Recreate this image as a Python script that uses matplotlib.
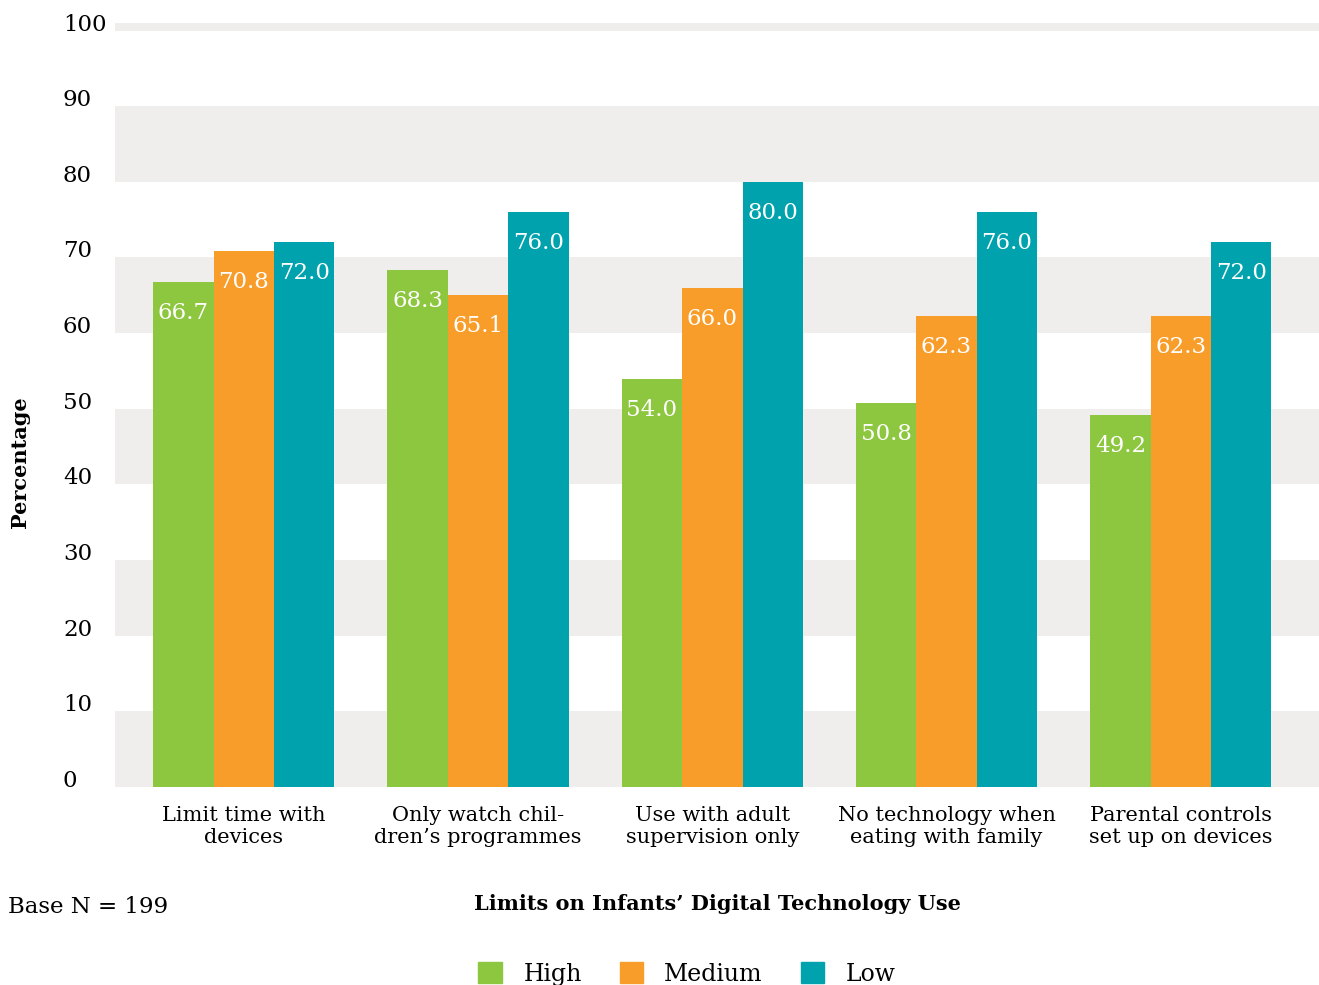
import numpy as np
import matplotlib
matplotlib.use('Agg')
from matplotlib import pyplot as plt
from matplotlib.patches import Patch
import matplotlib.transforms as mtransforms

categories = ['Limit time with\ndevices', 'Only watch chil-\ndren\u2019s programmes',
              'Use with adult\nsupervision only', 'No technology when\neating with family',
              'Parental controls\nset up on devices']
high = [66.7, 68.3, 54.0, 50.8, 49.2]
medium = [70.8, 65.1, 66.0, 62.3, 62.3]
low = [72.0, 76.0, 80.0, 76.0, 72.0]
series_names = ['High', 'Medium', 'Low']
yticks = [0, 10, 20, 30, 40, 50, 60, 70, 80, 90, 100]

colors = ['#8dc63f', '#f99d2a', '#00a3ad']
band = '#efeeec'
font = 'DejaVu Serif'
plt.rcParams['font.family'] = font

fig = plt.figure(figsize=(13.19, 9.85), dpi=100)
ax = fig.add_axes([115/1319, 1-787/985, 1-115/1319, (787-23)/985])

# alternating bands
for lo in range(0, 101, 20):
    ax.axhspan(lo, min(lo+10, 101), color=band, lw=0, zorder=0)

x = np.arange(len(categories))
w = 0.258
for i, vals in enumerate([high, medium, low]):
    xs = x + (i-1)*w
    ax.bar(xs, vals, width=w, color=colors[i], zorder=2, lw=0)
    for xx, v in zip(xs, vals):
        ax.text(xx, v-4.1, '%.1f' % v, color='white', ha='center', va='center',
                fontsize=16.5, zorder=3)

ax.set_xlim(-0.55, 4.59)
ax.set_ylim(0, 101)
for s in ax.spines.values():
    s.set_visible(False)
ax.set_yticks([])
ax.set_xticks(x)
ax.set_xticklabels(categories, fontsize=15, linespacing=1.2)
ax.tick_params(axis='x', length=0, pad=14)

# y tick labels sit just above their gridline
trans = mtransforms.blended_transform_factory(fig.transFigure, ax.transData)
for t in yticks:
    ax.text(63/1319, t, str(t), transform=trans, ha='left', va='baseline',
            fontsize=16.5, clip_on=False)

fig.text(20/1319, 1-462/985, 'Percentage', rotation=90, ha='center', va='center',
         fontsize=15, fontweight='bold')
fig.text(717/1319, 1-904/985, 'Limits on Infants\u2019 Digital Technology Use',
         ha='center', va='center', fontsize=15, fontweight='bold')
fig.text(8/1319, 1-907/985, 'Base N = 199', ha='left', va='center', fontsize=16.5)

handles = [Patch(color=c) for c in colors]
fig.legend(handles, series_names, loc='center', bbox_to_anchor=(687/1319, 1-974/985),
           ncol=3, frameon=False, fontsize=17, handlelength=1.0, handleheight=1.0,
           handletextpad=0.9, columnspacing=1.6)

fig.savefig('out.png', dpi=100)
